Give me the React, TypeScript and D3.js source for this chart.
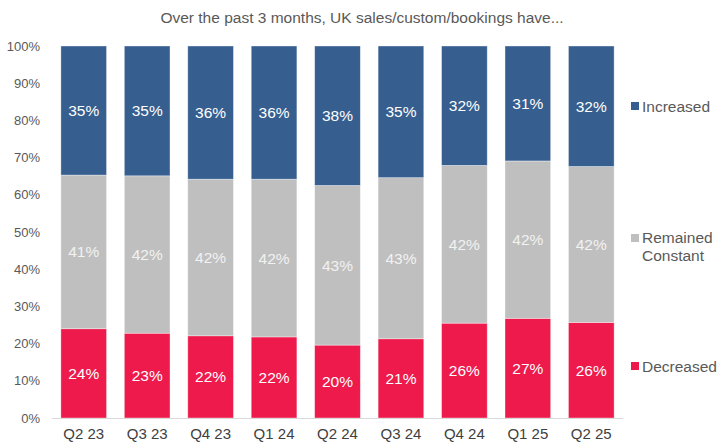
import React from "react";
import * as d3 from "d3";

const categories = ["Q2 23", "Q3 23", "Q4 23", "Q1 24", "Q2 24", "Q3 24", "Q4 24", "Q1 25", "Q2 25"];
const decreased = [24.0, 22.8, 22.1, 21.8, 19.6, 21.3, 25.5, 26.8, 25.7];
const remained = [41.3, 42.3, 42.1, 42.4, 42.9, 43.3, 42.4, 42.3, 41.9];
const increased = [34.7, 34.9, 35.8, 35.8, 37.5, 35.4, 32.1, 30.9, 32.4];
const yTicks = [0, 10, 20, 30, 40, 50, 60, 70, 80, 90, 100];

const seriesDefs = [
  { key: "Decreased", values: decreased, color: "#EE1A4B", text: "#ffffff" },
  { key: "Remained Constant", values: remained, color: "#BFBFBF", text: "#f2f2f2" },
  { key: "Increased", values: increased, color: "#365E8F", text: "#ffffff" },
];

const W = 719, H = 443;
const left = 52, right = 623, top = 46, bottom = 418;
const font = "'Liberation Sans', Arial, sans-serif";

export default function App() {
  const x = d3.scaleBand().domain(categories).range([left, right]).paddingInner(0.28).paddingOuter(0.14);
  const y = d3.scaleLinear().domain([0, 100]).range([bottom, top]);
  const rows = categories.map((c, i) => ({ cat: c, Decreased: decreased[i], "Remained Constant": remained[i], Increased: increased[i] }));
  const stack = d3.stack<any>().keys(seriesDefs.map((s) => s.key))(rows);

  return (
    <div style={{ position: "absolute", left: 0, top: 0 }}>
      <svg width={W} height={H} style={{ display: "block", fontFamily: font }}>
        <rect width={W} height={H} fill="#fff" />
        <text x={362} y={23} textAnchor="middle" fontSize={15.5} fill="#595959">
          Over the past 3 months, UK sales/custom/bookings have...
        </text>
        {yTicks.map((t) => (
          <text key={t} x={40} y={y(t) + 4.5} textAnchor="end" fontSize={13} fill="#595959">
            {t}%
          </text>
        ))}
        {stack.map((layer, li) => (
          <g key={layer.key}>
            {layer.map((d, i) => {
              const x0 = x(categories[i])!;
              const y0 = y(d[1]);
              const h = y(d[0]) - y(d[1]);
              return (
                <g key={i}>
                  <rect x={x0} y={y0} width={x.bandwidth()} height={h} fill={seriesDefs[li].color} stroke="#ffffff" strokeOpacity={0.5} strokeWidth={0.75} />
                  <text x={x0 + x.bandwidth() / 2} y={y0 + h / 2 + 5.5} textAnchor="middle" fontSize={15.5} fill={seriesDefs[li].text}>
                    {Math.round(d[1] - d[0])}%
                  </text>
                </g>
              );
            })}
          </g>
        ))}
        <line x1={left} x2={right} y1={bottom + 0.5} y2={bottom + 0.5} stroke="#d9d9d9" strokeWidth={1} />
        {categories.map((c) => (
          <text key={c} x={x(c)! + x.bandwidth() / 2} y={439} textAnchor="middle" fontSize={15} fill="#404040">
            {c}
          </text>
        ))}
        {/* legend */}
        <rect x={631} y={102} width={8} height={8} fill="#365E8F" />
        <text x={642} y={111.5} fontSize={15.5} fill="#595959">Increased</text>
        <rect x={631} y={234} width={8} height={8} fill="#BFBFBF" />
        <text x={642} y={243} fontSize={15.5} fill="#595959">Remained</text>
        <text x={642} y={261} fontSize={15.5} fill="#595959">Constant</text>
        <rect x={631} y={362} width={8} height={8} fill="#EE1A4B" />
        <text x={642} y={371.5} fontSize={15.5} fill="#595959">Decreased</text>
      </svg>
    </div>
  );
}
